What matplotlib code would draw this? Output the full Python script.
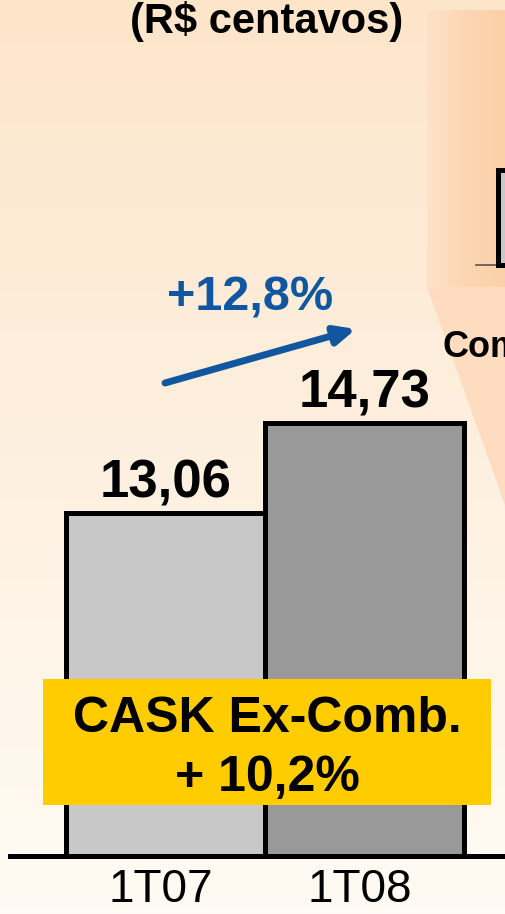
from matplotlib import pyplot as plt
import matplotlib.patches as patches
import matplotlib.transforms as mtransforms
from matplotlib.colors import LinearSegmentedColormap
import numpy as np

plt.rcParams['font.family'] = ['Liberation Sans', 'DejaVu Sans']

categories = ['1T07', '1T08']
values = [13.06, 14.73]
bar_colors = ['#c8c8c8', '#999999']
growth_label = '+12,8%'
box_lines = ['CASK Ex-Comb.', '+ 10,2%']
title = '(R$ centavos)'

W, H = 506, 914
fig = plt.figure(figsize=(W / 100, H / 100), dpi=100)

# background layer, pixel coords with y going down
bg = fig.add_axes([0, 0, 1, 1])
bg.set_xlim(0, W)
bg.set_ylim(H, 0)
bg.axis('off')
grad = LinearSegmentedColormap.from_list('bg', ['#fde5ca', '#fef0e0', '#fffbf4'])
bg.imshow(np.linspace(0, 1, 256).reshape(-1, 1), cmap=grad, aspect='auto',
          extent=(0, W, H, 0), zorder=0)

# orange callout (zoomed panel that runs off the right edge)
wedge = patches.Polygon([(427, 287), (506, 287), (506, 508)], closed=True,
                        facecolor='#fddcbf', edgecolor='none', zorder=1)
bg.add_patch(wedge)
rect = patches.Rectangle((427, 10), 79, 277, facecolor='none', edgecolor='none', zorder=1)
bg.add_patch(rect)
rgrad = LinearSegmentedColormap.from_list('r', ['#fde2ca', '#fcd6b2', '#fbd0a8'])
im = bg.imshow(np.linspace(0, 1, 256).reshape(1, -1), cmap=rgrad, aspect='auto',
               extent=(427, 506, 287, 10), zorder=1)
im.set_clip_path(rect)
bg.plot([476, 498], [265, 265], color='#555555', lw=1.2, zorder=2)
bg.add_patch(patches.Rectangle((498.5, 170), 30, 95, facecolor='#c8c8c8',
                               edgecolor='black', lw=3.6, zorder=2))
bg.text(443, 357, 'Combustível', fontsize=26, fontweight='bold', ha='left',
        va='baseline', zorder=3)

bg.text(267, 33, title, fontsize=30, fontweight='bold', ha='center', va='baseline')

# main bar chart
ymin = 6.69
ax = fig.add_axes([10 / W, (H - 856) / H, 496 / W, 856 / H])
ax.patch.set_alpha(0)
x = np.arange(len(categories))
ax.bar(x, np.array(values) - ymin, bottom=ymin, width=1.0, color=bar_colors,
       edgecolor='black', linewidth=3.6, zorder=2)
ax.set_xlim(-(166 - 10) / 199, (506 - 166) / 199)
ax.set_ylim(ymin, ymin + 856 / 53.9)
for s in ['top', 'right', 'left']:
    ax.spines[s].set_visible(False)
ax.spines['bottom'].set_linewidth(3.6)
ax.spines['bottom'].set_zorder(3)
ax.set_yticks([])
ax.set_xticks(x)
ax.set_xticklabels(categories, fontsize=33)
ax.tick_params(axis='x', length=0, pad=9)
shift = mtransforms.ScaledTranslation(-5 / 100, 0, fig.dpi_scale_trans)
for lbl in ax.get_xticklabels():
    lbl.set_transform(lbl.get_transform() + shift)
for i, v in enumerate(values):
    ax.annotate(f'{v:.2f}'.replace('.', ','), xy=(i, v), xytext=(0, 11),
                textcoords='offset points', ha='center', va='baseline',
                fontsize=38, fontweight='bold')

# overlay: growth arrow and yellow box
top = fig.add_axes([0, 0, 1, 1])
top.set_xlim(0, W)
top.set_ylim(H, 0)
top.axis('off')
blue = '#11579f'
top.annotate('', xy=(356, 329), xytext=(165, 383),
             arrowprops=dict(arrowstyle='-|>,head_length=1.2,head_width=0.55',
                             color=blue, lw=5, shrinkA=0, shrinkB=0))
top.text(250, 311, growth_label, color=blue, fontsize=35, fontweight='bold',
         ha='center', va='baseline')
top.add_patch(patches.Rectangle((43, 679), 448, 126, facecolor='#ffcc00',
                                edgecolor='none', zorder=4))
top.text(267, 732, box_lines[0], fontsize=36, fontweight='bold', ha='center',
         va='baseline', zorder=5)
top.text(267, 791, box_lines[1], fontsize=36, fontweight='bold', ha='center',
         va='baseline', zorder=5)

fig.savefig('out.png', dpi=100)
